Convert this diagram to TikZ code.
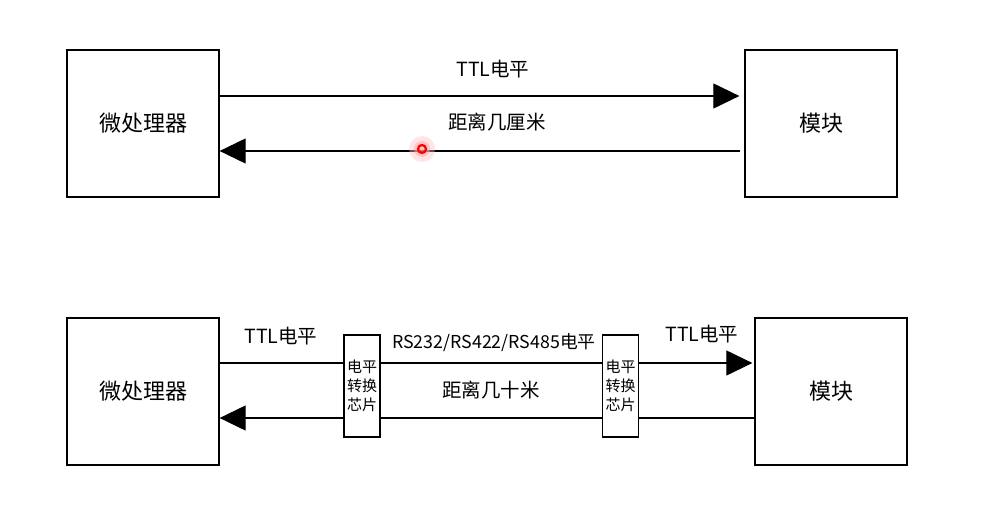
\documentclass[tikz,border=0pt]{standalone}
\usepackage{fontspec}
\setmainfont{Noto Sans CJK SC}
\usetikzlibrary{arrows.meta,calc}
\begin{document}
\begin{tikzpicture}[x=1pt,y=-1pt,
  bigbox/.style={draw=black,line width=1.3pt,minimum width=152pt,minimum height=147pt,inner sep=0pt,font=\fontsize{22}{24}\selectfont},
  chip/.style={draw=black,line width=1.1pt,minimum width=36pt,minimum height=102pt,inner sep=0pt,align=center,font=\fontsize{15}{19}\selectfont},
  wire/.style={line width=1.2pt},
  tip/.style={-{Triangle[length=26pt,width=25pt]}},
  lbl/.style={font=\fontsize{19.5}{22}\selectfont,inner sep=0pt}
]
\useasboundingbox (0,0) rectangle (981,529);
% top diagram
\node[bigbox] (mcuA) at (143,123.5) {微处理器};
\node[bigbox] (modA) at (821,123.5) {模块};
\coordinate (yA1) at (0,96);
\coordinate (yA2) at (0,151);
\draw[wire,tip,shorten >=5pt] (mcuA.east |- yA1) -- (modA.west |- yA1);
\draw[wire,tip,shorten <=4pt] (modA.west |- yA2) -- (mcuA.east |- yA2);
\node[lbl] (tA) at (493,69) {TTL电平};
\node[lbl] (dA) at (497,122) {距离几厘米};
\fill[red!25,opacity=0.4] (422,149) circle (13);
\fill[red!35,opacity=0.5] (422,149) circle (8);
\draw[red,line width=2.2pt] (422,149) circle (4);
% bottom diagram
\node[bigbox] (mcuB) at (143,391.5) {微处理器};
\node[bigbox] (modB) at (831,391.5) {模块};
\node[chip] (chL) at (362,386) {电平\\转换\\芯片};
\node[chip] (chR) at (620.5,386) {电平\\转换\\芯片};
\coordinate (yB1) at (0,363);
\coordinate (yB2) at (0,418);
\draw[wire] (mcuB.east |- yB1) -- (chL.west |- yB1);
\draw[wire] (chL.east |- yB1) -- (chR.west |- yB1);
\draw[wire,tip,shorten >=2pt] (chR.east |- yB1) -- (modB.west |- yB1);
\draw[wire] (modB.west |- yB2) -- (chR.east |- yB2);
\draw[wire] (chR.west |- yB2) -- (chL.east |- yB2);
\draw[wire,tip] (chL.west |- yB2) -- (mcuB.east |- yB2);
\node[lbl] (tB1) at (281,336) {TTL电平};
\node[lbl,font=\fontsize{17.8}{20}\selectfont] (rsB) at (494,343) {RS232/RS422/RS485电平};
\node[lbl] (tB2) at (702,334) {TTL电平};
\node[lbl] (dB) at (491,390) {距离几十米};
\end{tikzpicture}
\end{document}
